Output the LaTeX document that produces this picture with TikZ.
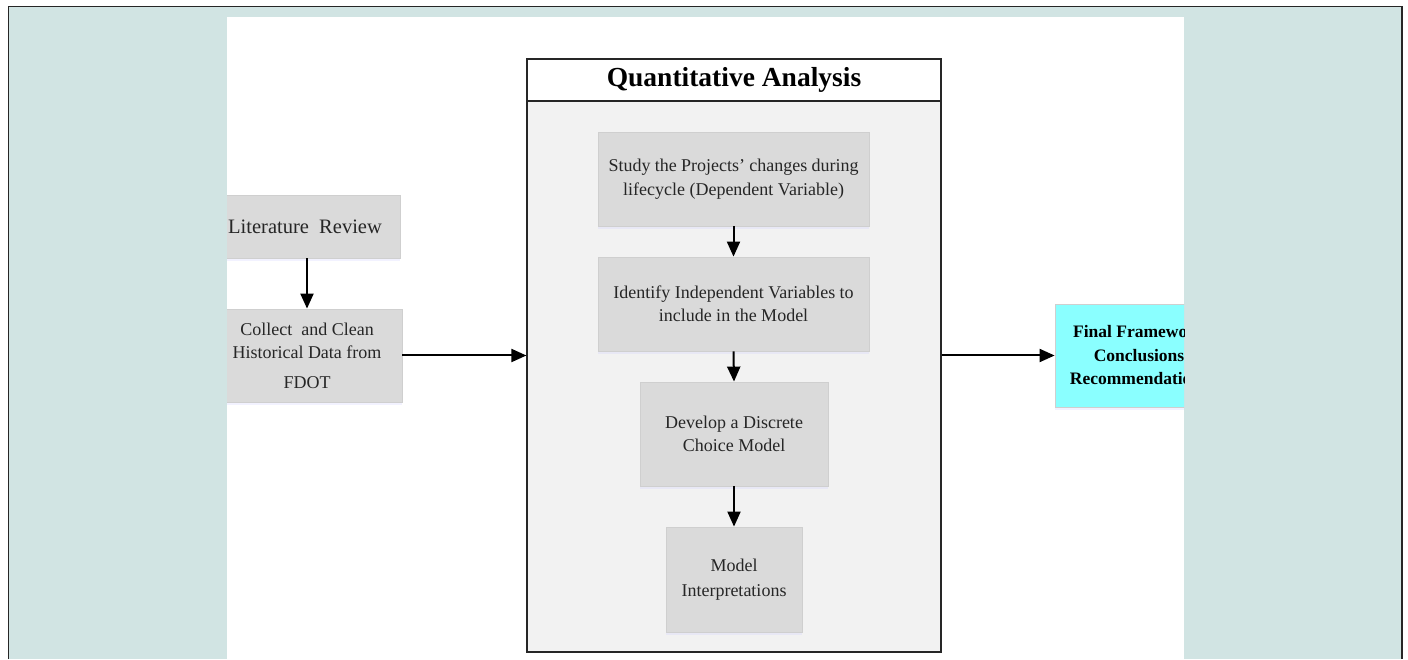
\documentclass[tikz,border=0pt]{standalone}
\usepackage{fontspec}
\setmainfont{Liberation Serif}
\usetikzlibrary{arrows.meta,shadows}
\definecolor{teal1}{HTML}{D1E4E3}
\definecolor{boxgray}{HTML}{DADADA}
\definecolor{boxline}{HTML}{CFCFCF}
\definecolor{bodygray}{HTML}{F2F2F2}
\definecolor{cyanbox}{HTML}{8AFFFF}
\definecolor{txt}{HTML}{262626}
\tikzset{
  graybox/.style={rectangle, fill=boxgray, draw=boxline, line width=0.8pt, inner sep=0pt, align=center, text=txt,
    font=\fontsize{18}{23.5}\selectfont,
    drop shadow={shadow xshift=0pt, shadow yshift=-3pt, opacity=0.25, fill=blue!20}},
  arr/.style={line width=2pt, -{Triangle[length=15pt,width=13pt]}},
}
\begin{document}
\begin{tikzpicture}[x=1pt,y=1pt]
\useasboundingbox (0,0) rectangle (1408,659);
% background frame
\fill[teal1] (8.5,0) rectangle (1402,652.5);
\draw[line width=1.2pt, black!85] (8.5,0) -- (8.5,652.5) -- (1402,652.5) -- (1402,0);
\fill[white] (227,0) rectangle (1184,642);
% Quantitative Analysis container
\node[rectangle, draw=black!85, line width=1.2pt, fill=bodygray, minimum width=414pt, minimum height=593pt, inner sep=0pt] (quant) at (734,303.5) {};
\node[rectangle, draw=black!85, line width=1.2pt, fill=white, minimum width=414pt, minimum height=42pt, inner sep=0pt,
      font=\fontsize{27.5}{30}\selectfont\bfseries] (qtitle) at (734,579) {Quantitative Analysis};
% inner boxes
\node[graybox, minimum width=271pt, minimum height=94pt] (study) at (733.5,480) {\makebox[250pt][s]{Study the Projects’ changes during}\\lifecycle (Dependent Variable)};
\node[graybox, minimum width=271pt, minimum height=94pt] (ident) at (733.5,355) {Identify Independent Variables to\\include in the Model};
\node[graybox, minimum width=188pt, minimum height=104pt] (devel) at (734,225) {Develop a Discrete\\Choice Model};
\node[graybox, minimum width=136pt, minimum height=105pt] (interp) at (734,79.5) {Model\\[1pt]Interpretations};
% clipped side boxes
\begin{scope}
\clip (227,0) rectangle (1184,642);
\node[graybox, minimum width=190pt, minimum height=63pt, font=\fontsize{20.5}{24}\selectfont] (lit) at (305,432.5) {Literature\ \ Review};
\node[graybox, minimum width=190pt, minimum height=93pt] (coll) at (307,303.5) {Collect\ \ and Clean\\Historical Data from\\[6pt]FDOT};
\node[graybox, fill=cyanbox, minimum width=168pt, minimum height=103pt, text=black, font=\fontsize{17.5}{23.5}\selectfont\bfseries] (final) at (1139,303.5) {Final Framework\\Conclusions\\Recommendations};
\end{scope}
% connectors
\draw[arr] (lit.south -| coll.north) -- (coll.north);
\draw[arr] (coll.east) -- (quant.west);
\draw[arr] (quant.east) -- (final.west);
\draw[arr] (study.south) -- (ident.north);
\draw[arr] (ident.south) -- (devel.north);
\draw[arr] (devel.south) -- (interp.north);
\end{tikzpicture}
\end{document}
